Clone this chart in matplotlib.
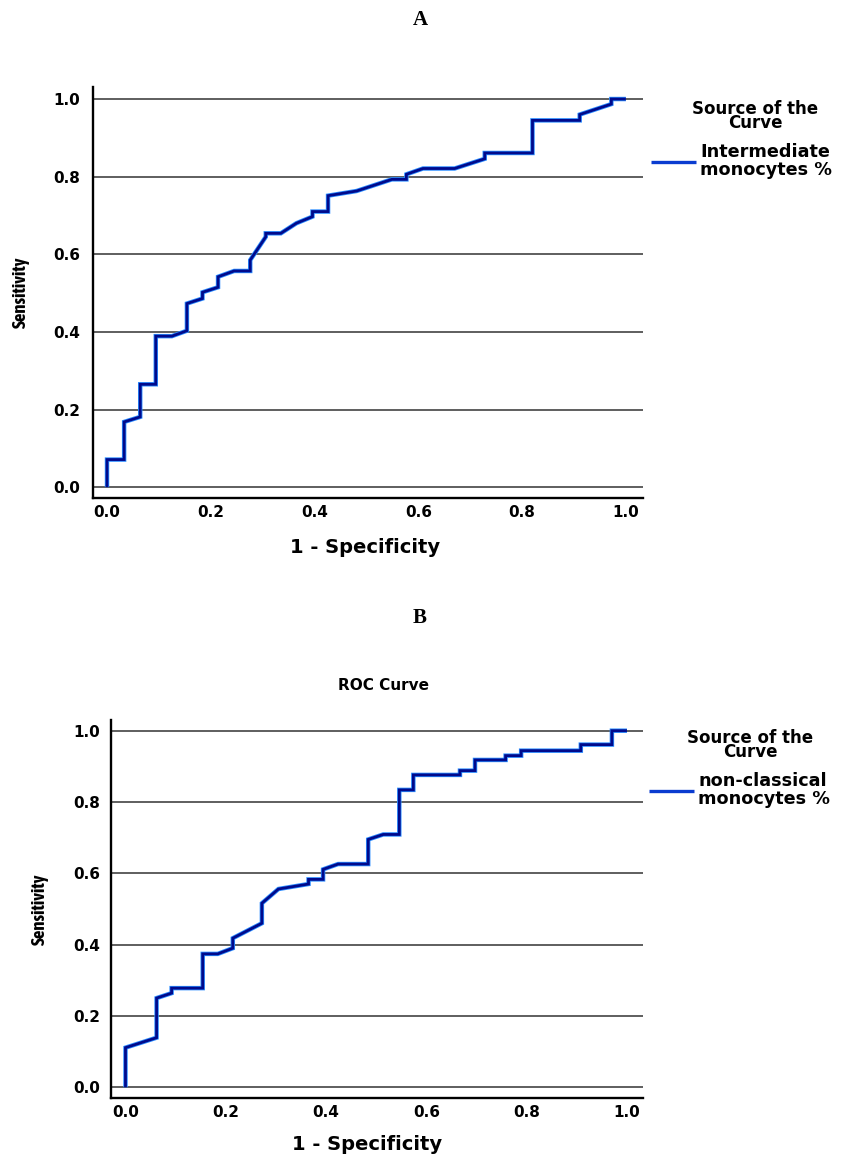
import matplotlib
matplotlib.use("Agg")
import matplotlib.pyplot as plt
from matplotlib import font_manager

# ---------------- data ----------------
a_fpr = [0.0, 0.0, 0.033, 0.033, 0.064, 0.064, 0.094, 0.094, 0.125, 0.154,
         0.154, 0.184, 0.184, 0.214, 0.214, 0.245, 0.276, 0.276, 0.306, 0.306,
         0.335, 0.365, 0.396, 0.396, 0.426, 0.426, 0.481, 0.549, 0.577, 0.577,
         0.609, 0.670, 0.728, 0.728, 0.820, 0.820, 0.911, 0.911, 0.972, 0.972,
         1.0]
a_tpr = [0.0, 0.071, 0.071, 0.168, 0.181, 0.265, 0.265, 0.389, 0.389, 0.403,
         0.473, 0.486, 0.502, 0.515, 0.542, 0.557, 0.557, 0.585, 0.645, 0.654,
         0.654, 0.680, 0.697, 0.710, 0.710, 0.751, 0.763, 0.793, 0.793, 0.806,
         0.821, 0.821, 0.846, 0.861, 0.861, 0.945, 0.945, 0.960, 0.987, 1.0,
         1.0]
b_fpr = [0.0, 0.0, 0.062, 0.062, 0.092, 0.092, 0.154, 0.154, 0.184, 0.214,
         0.214, 0.272, 0.272, 0.305, 0.365, 0.365, 0.394, 0.394, 0.424, 0.484,
         0.484, 0.514, 0.546, 0.546, 0.574, 0.574, 0.667, 0.667, 0.697, 0.697,
         0.758, 0.758, 0.789, 0.789, 0.908, 0.908, 0.970, 0.970, 1.0]
b_tpr = [0.0, 0.111, 0.139, 0.250, 0.264, 0.278, 0.278, 0.374, 0.374, 0.390,
         0.418, 0.460, 0.516, 0.556, 0.570, 0.583, 0.583, 0.611, 0.626, 0.626,
         0.695, 0.709, 0.709, 0.834, 0.834, 0.876, 0.876, 0.888, 0.888, 0.918,
         0.918, 0.930, 0.930, 0.944, 0.944, 0.961, 0.961, 1.0, 1.0]
ticks = [0.0, 0.2, 0.4, 0.6, 0.8, 1.0]
tick_labels = ["0.0", "0.2", "0.4", "0.6", "0.8", "1.0"]
label_a = "Intermediate\nmonocytes %"
label_b = "non-classical\nmonocytes %"

W, H = 848, 1156
fig = plt.figure(figsize=(W / 100, H / 100), dpi=100)

# look for a narrow / condensed family for the rotated y label
narrow = None
for f in font_manager.fontManager.ttflist:
    n = f.name
    if ("Narrow" in n or "Condensed" in n) and f.weight in ("bold", 700):
        narrow = n
        break
if narrow is None:
    for f in font_manager.fontManager.ttflist:
        if f.stretch in ("condensed", "semi-condensed", "extra-condensed") \
                or (isinstance(f.stretch, int) and f.stretch < 500):
            narrow = f.name
            break


def rect(x0, y0, x1, y1):
    return [x0 / W, 1 - y1 / H, (x1 - x0) / W, (y1 - y0) / H]


HEAVY = dict(family="DejaVu Sans", fontweight="bold")


def panel(ax, fpr, tpr, label, xlim, ylim, ypad, xlab_pos, ylab_pos,
          leg_anchor, src_xy):
    ax.set_xlim(*xlim)
    ax.set_ylim(*ylim)
    for y in ticks:
        ax.axhline(y, color="#333333", lw=1.1, zorder=1)
    ax.plot(fpr, tpr, color="#2a8cff", lw=3.2, zorder=2,
            solid_joinstyle="miter", solid_capstyle="butt")
    ax.plot(fpr, tpr, color="#000a8c", lw=2.0, zorder=3, label=label,
            solid_joinstyle="miter", solid_capstyle="butt")
    for s in ["top", "right"]:
        ax.spines[s].set_visible(False)
    for s in ["left", "bottom"]:
        ax.spines[s].set_linewidth(1.7)
        ax.spines[s].set_color("black")
    ax.set_xticks(ticks)
    ax.set_xticklabels(tick_labels, **HEAVY, fontsize=11)
    ax.set_yticks(ticks)
    ax.set_yticklabels(tick_labels, **HEAVY, fontsize=11)
    ax.tick_params(axis="both", length=0)
    ax.tick_params(axis="y", pad=ypad)
    ax.tick_params(axis="x", pad=5)
    ax.set_xlabel("1 - Specificity", **HEAVY, fontsize=14)
    ax.xaxis.set_label_coords(*xlab_pos)
    ax.xaxis.label.set_va("center")
    if narrow is not None:
        ax.set_ylabel("Sensitivity", family=narrow, fontweight="bold",
                      fontsize=13.5)
    else:
        ax.set_ylabel("Sensitivity", **HEAVY, fontsize=9)
    ax.yaxis.set_label_coords(*ylab_pos)
    ax.yaxis.label.set_va("center")
    leg = ax.legend(loc="upper left", bbox_to_anchor=leg_anchor,
                    bbox_transform=fig.transFigure, frameon=False,
                    borderpad=0, borderaxespad=0, handlelength=2.55,
                    handletextpad=0.25,
                    prop=dict(family="DejaVu Sans", weight="bold",
                              size=12.7))
    for t in leg.get_texts():
        t.set_linespacing(1.0)
    for h in leg.get_lines():
        h.set_color("#0a3cd0")
        h.set_linewidth(2.4)
    fig.text(src_xy[0] / W, 1 - src_xy[1] / H, "Source of the\nCurve",
             ha="center", va="center", **HEAVY, fontsize=12,
             linespacing=0.78)


# Panel A
axA = fig.add_axes(rect(93, 87, 643, 498))
panel(axA, a_fpr, a_tpr, label_a,
      xlim=(-0.027, 1.033), ylim=(-0.028, 1.031), ypad=9.4,
      xlab_pos=(0.495, -0.12), ylab_pos=(-0.132, 0.5),
      leg_anchor=(651 / W, 1 - 143 / H), src_xy=(755, 116))

# Panel B
axB = fig.add_axes(rect(110.7, 720, 643, 1098.3))
panel(axB, b_fpr, b_tpr, label_b,
      xlim=(-0.0295, 1.032), ylim=(-0.031, 1.03), ypad=7.7,
      xlab_pos=(0.481, -0.123), ylab_pos=(-0.133, 0.5),
      leg_anchor=(649 / W, 1 - 772 / H), src_xy=(750, 745))

fig.text(420 / W, 1 - 20 / H, "A", family="Liberation Serif",
         fontweight="bold", fontsize=15, ha="center", va="center")
fig.text(420 / W, 1 - 618 / H, "B", family="Liberation Serif",
         fontweight="bold", fontsize=15, ha="center", va="center")
fig.text(384 / W, 1 - 686 / H, "ROC Curve", **HEAVY, fontsize=11,
         ha="center", va="center")

fig.savefig("out.png", dpi=100, facecolor="white")
